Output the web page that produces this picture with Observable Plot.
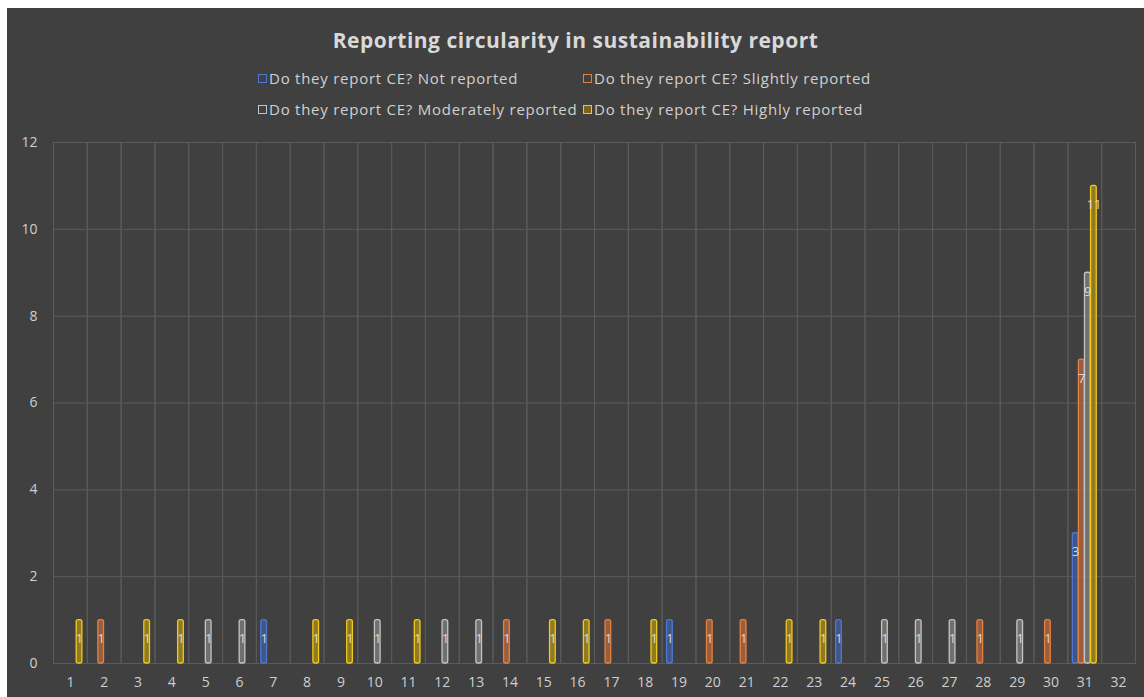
<!DOCTYPE html>
<html>
<head>
<meta charset="utf-8">
<script src="https://cdn.jsdelivr.net/npm/d3@7"></script>
<script src="https://cdn.jsdelivr.net/npm/@observablehq/plot@0.6"></script>
<style>
  html, body { margin: 0; padding: 0; background: #ffffff; }
  #chart {
    position: absolute; left: 7px; top: 8px; width: 1137px; height: 689px;
    background: #404040; font-family: "Open Sans", sans-serif; overflow: hidden;
  }
  #title {
    position: absolute; left: 0; width: 100%; top: 18px; text-align: center;
    color: #d9d9d9; font-weight: bold; font-size: 21px; letter-spacing: 0.5px;
  }
  .leg { position: absolute; color: #d0d0d0; font-size: 15px; letter-spacing: 0.75px; white-space: nowrap; display: flex; align-items: center; }
  .sw { display: inline-block; width: 9px; height: 9px; border: 1px solid; margin-right: 2px; box-sizing: border-box; }
  #plot { position: absolute; left: 0; top: 117px; }
</style>
</head>
<body>
<div id="chart">
  <div id="title">Reporting circularity in sustainability report</div>
  <div id="legend"></div>
  <div id="plot"></div>
</div>
<script>
// Categories on the x axis
const categories = [1,2,3,4,5,6,7,8,9,10,11,12,13,14,15,16,17,18,19,20,21,22,23,24,25,26,27,28,29,30,31,32];
// Series names
const seriesNames = [
  "Do they report CE? Not reported",
  "Do they report CE? Slightly reported",
  "Do they report CE? Moderately reported",
  "Do they report CE? Highly reported"
];
// Series values, one per category (0 = no bar)
const notReported      = [0,0,0,0,0,0,1,0,0,0,0,0,0,0,0,0,0,0,1,0,0,0,0,1,0,0,0,0,0,0,3,0];
const slightlyReported = [0,1,0,0,0,0,0,0,0,0,0,0,0,1,0,0,1,0,0,1,1,0,0,0,0,0,0,1,0,1,7,0];
const moderatelyReported = [0,0,0,0,1,1,0,0,0,1,0,1,1,0,0,0,0,0,0,0,0,0,0,0,1,1,1,0,1,0,9,0];
const highlyReported   = [1,0,1,1,0,0,0,1,1,0,1,0,0,0,1,1,0,1,0,0,0,1,1,0,0,0,0,0,0,0,11,0];
// Y axis ticks
const yTicks = [0,2,4,6,8,10,12];

const seriesValues = [notReported, slightlyReported, moderatelyReported, highlyReported];
const strokeColors = ["#4f78d0", "#e5813f", "#c4c4c4", "#f0c81e"];
const fillColors   = ["#3d5fa8", "#c06a3c", "#858585", "#b39414"];

const table = [];
categories.forEach((c, i) => {
  seriesNames.forEach((s, j) => {
    const v = seriesValues[j][i];
    if (v > 0) table.push({cat: c, series: s, value: v});
  });
});

// Legend
const legend = document.getElementById("legend");
const legPos = [[258, 78], [583, 78], [258, 109], [583, 109]];
seriesNames.forEach((s, j) => {
  const d = document.createElement("div");
  d.className = "leg";
  d.style.left = (legPos[j][0] - 7) + "px";
  d.style.top = (legPos[j][1] - 8 - 11) + "px";
  d.style.height = "22px";
  const sw = document.createElement("span");
  sw.className = "sw";
  sw.style.borderColor = strokeColors[j];
  if (j === 3) sw.style.background = "#7a6512";
  d.appendChild(sw);
  d.appendChild(document.createTextNode(s));
  legend.appendChild(d);
});

const plot = Plot.plot({
  width: 1137,
  height: 572,
  marginLeft: 46,
  marginRight: 9,
  marginTop: 17,
  marginBottom: 34,
  style: {background: "transparent", color: "#cfcfcf", fontFamily: "Open Sans, sans-serif", fontSize: "14px"},
  fx: {domain: categories, padding: 0, round: false, axis: "bottom", tickSize: 0, tickPadding: 14, label: null},
  x: {domain: seriesNames, paddingInner: 0, paddingOuter: 0.78, round: false, axis: null},
  y: {domain: [0, 12], ticks: yTicks, tickSize: 0, tickPadding: 16, label: null},
  marks: [
    // keeps every category facet present, including empty ones
    Plot.dot(categories, {fx: d => d, x: () => seriesNames[0], y: () => 0, r: 0, fill: "none", stroke: "none"}),
    Plot.gridY(yTicks, {stroke: "#5b5b5b", strokeOpacity: 1}),
    Plot.frame({stroke: "#5b5b5b", strokeOpacity: 1}),
    ...seriesNames.map((s, j) => Plot.barY(table.filter(d => d.series === s), {
      fx: "cat", x: "series", y: "value",
      fill: fillColors[j], fillOpacity: 0.7,
      stroke: strokeColors[j], strokeWidth: 1.3, rx: 2,
      insetLeft: 0.2, insetRight: 0.2
    })),
    Plot.text(table, {
      fx: "cat", x: "series", y: "value", text: d => String(d.value),
      dy: 19, fill: "#e6e6e6", fontSize: 13, fillOpacity: 0.9
    })
  ]
});
document.getElementById("plot").appendChild(plot);

// glow effect on bars
d3.select(plot).selectAll('g[aria-label="bar"]').each(function() {
  const c = this.getAttribute("stroke");
  if (c) this.style.filter = `drop-shadow(0 0 2px ${c}) drop-shadow(0 0 1.5px ${c})`;
});
</script>
</body>
</html>
